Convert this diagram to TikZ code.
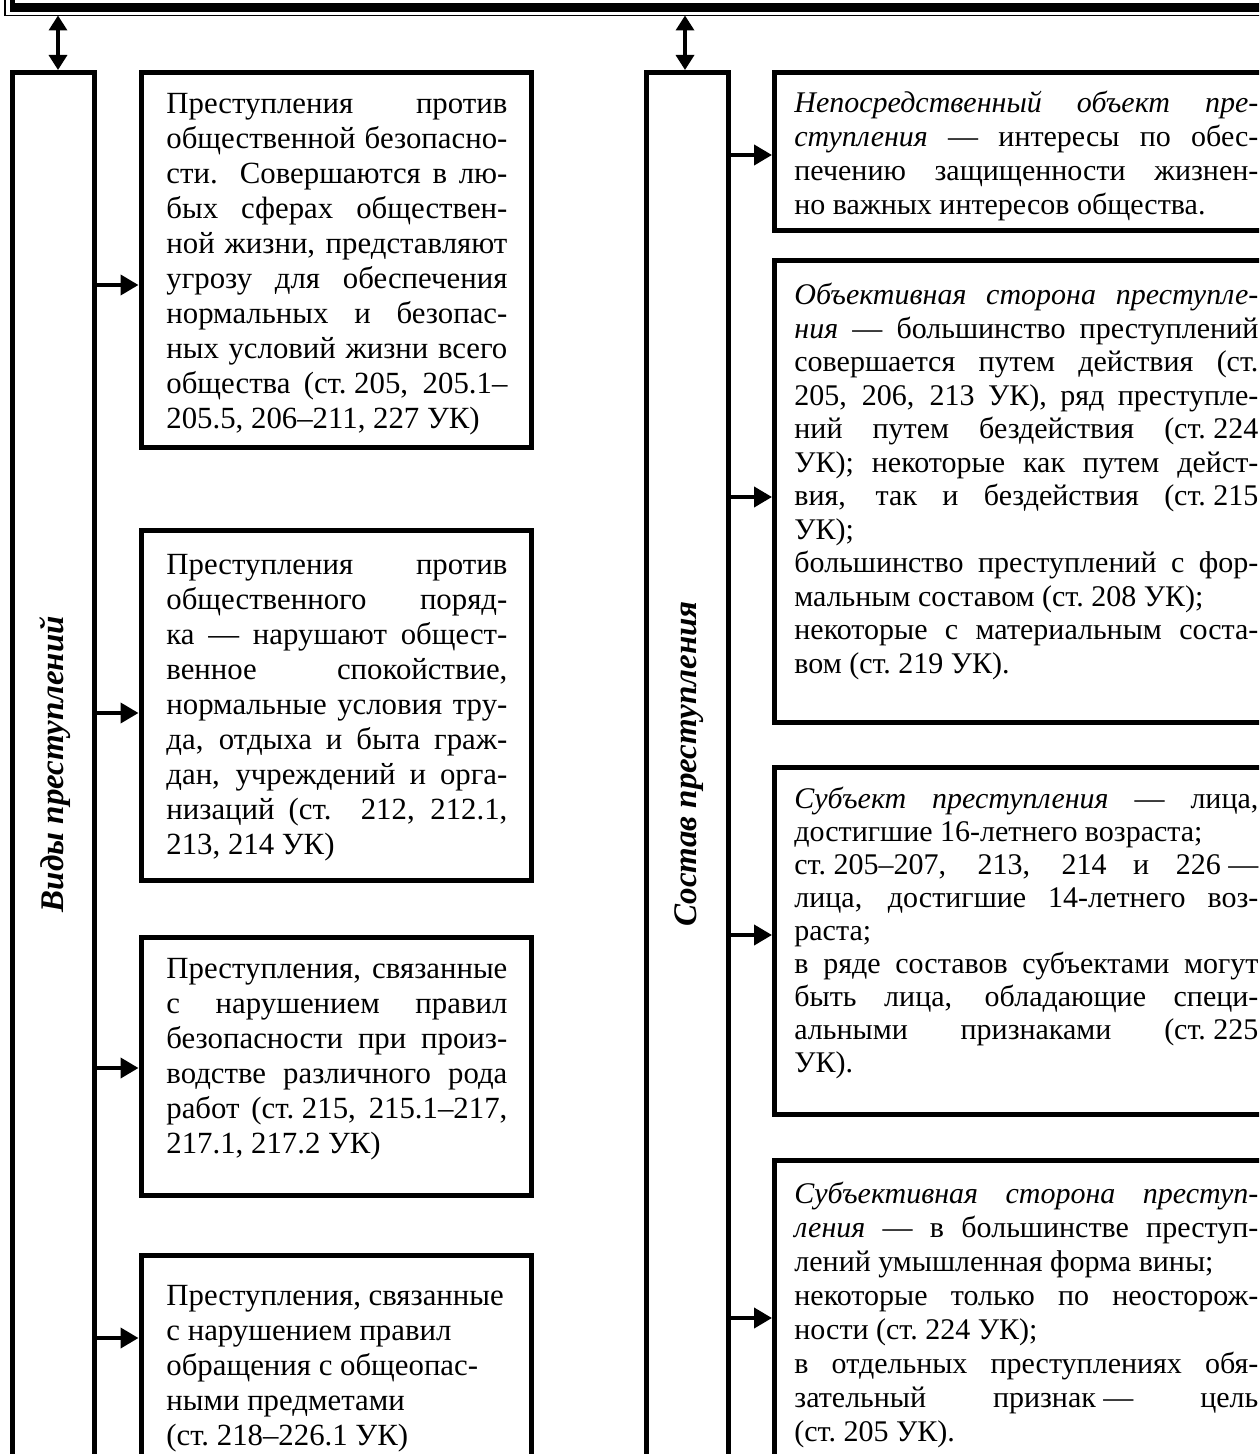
\documentclass[tikz,border=0pt]{standalone}
\usepackage{fontspec}
\setmainfont{Liberation Serif}
\usetikzlibrary{arrows.meta}
\newcommand\JLn[1]{\hbox to\hsize{#1}}
\newcommand\LLn[1]{\hbox to\hsize{#1\hfil}}
\newcommand\TB[2]{\vtop{\hsize=#1\relax #2}}
\newcommand\ns{\kern0.25em}
\begin{document}
\begin{tikzpicture}[x=0.5pt,y=-0.5pt,
  frame/.style={draw, line width=2.5pt, inner sep=0pt},
  lbox/.style={frame, minimum width=195pt},
  rbox/.style={frame, minimum width=262.5pt},
  vbox/.style={frame, minimum width=41pt, minimum height=714pt},
  ltxt/.style={inner sep=0pt, anchor=base west, font=\fontsize{15.4}{17.5}\selectfont},
  rtxt/.style={inner sep=0pt, anchor=base west, font=\fontsize{15}{16.75}\selectfont},
  vlab/.style={rotate=90, inner sep=0pt, font=\fontsize{16.5}{19}\selectfont\bfseries\itshape},
  harr/.style={line width=2pt, -{Triangle[length=9pt,width=10pt]}},
  varr/.style={line width=1.7pt, {Triangle[length=7.5pt,width=9pt]}-{Triangle[length=7.5pt,width=9pt]}}]
\useasboundingbox (0,0) rectangle (1259,1454);
\clip (0,0) rectangle (1259,1454);

% top frame (cut off)
\node[draw, line width=0.75pt, inner sep=0pt, outer sep=0pt, anchor=south west,
      minimum width=650pt, minimum height=30pt] (top) at (5,15.5) {};
\fill (10,-60) rectangle (1300,12.5);
\fill[white] (15,-60) rectangle (1300,3.5);

% vertical boxes
\node[vbox] (vb1) at (53.5,786.5) {};
\node[vbox] (vb2) at (687.5,786.5) {};
\node[vlab] (l1) at (55.5,764) {Виды преступлений};
\node[vlab] (l2) at (689,764) {Состав преступления};

% left boxes
\node[lbox, minimum height=187pt] (b1) at (336,260) {};
\node[lbox, minimum height=175pt] (b2) at (336,705) {};
\node[lbox, minimum height=129pt] (b3) at (336,1066) {};
\node[lbox, minimum height=122.5pt] (b4) at (336,1377.5) {};

% right boxes
\node[rbox, minimum height=79pt] (r1) at (1037,152) {};
\node[rbox, minimum height=230.5pt] (r2) at (1037,491.5) {};
\node[rbox, minimum height=173.5pt] (r3) at (1037,940.5) {};
\node[rbox, minimum height=170pt] (r4) at (1037,1330) {};

% texts left
\node[ltxt] (t1) at (166,114) {\TB{170.5pt}{%
\JLn{Преступления против}
\JLn{общественной безопасно-}
\JLn{сти. Совершаются в лю-}
\JLn{бых сферах обществен-}
\JLn{ной жизни, представляют}
\JLn{угрозу для обеспечения}
\JLn{нормальных и безопас-}
\JLn{ных условий жизни всего}
\JLn{общества (ст.\ns205, 205.1–}
\LLn{205.5, 206–211, 227 УК)}}};

\node[ltxt] (t2) at (166,574) {\TB{170.5pt}{%
\JLn{Преступления против}
\JLn{общественного поряд-}
\JLn{ка — нарушают общест-}
\JLn{венное спокойствие,}
\JLn{нормальные условия тру-}
\JLn{да, отдыха и быта граж-}
\JLn{дан, учреждений и орга-}
\JLn{низаций (ст. 212, 212.1,}
\LLn{213, 214 УК)}}};

\node[ltxt] (t3) at (166,978) {\TB{170.5pt}{%
\JLn{Преступления, связанные}
\JLn{с нарушением правил}
\JLn{безопасности при произ-}
\JLn{водстве различного рода}
\JLn{работ (ст.\ns215, 215.1–217,}
\LLn{217.1, 217.2 УК)}}};

\node[ltxt] (t4) at (166,1305) {\TB{170.5pt}{%
\LLn{Преступления, связанные}
\LLn{с нарушением правил}
\LLn{обращения с общеопас-}
\LLn{ными предметами}
\LLn{(ст.\ns218–226.1 УК)}}};

% texts right
\node[rtxt, font=\fontsize{15}{17}\selectfont] (s1) at (794,113) {\TB{232pt}{%
\JLn{\textit{Непосредственный объект пре-}}
\JLn{\textit{ступления} — интересы по обес-}
\JLn{печению защищенности жизнен-}
\LLn{но важных интересов общества.}}};

\node[rtxt] (s2) at (794,305) {\TB{232pt}{%
\JLn{\textit{Объективная сторона преступле-}}
\JLn{\textit{ния} — большинство преступлений}
\JLn{совершается путем действия (ст.}
\JLn{205, 206, 213 УК), ряд преступле-}
\JLn{ний путем бездействия (ст.\ns224}
\JLn{УК); некоторые как путем дейст-}
\JLn{вия, так и бездействия (ст.\ns215}
\LLn{УК);}
\JLn{большинство преступлений с фор-}
\LLn{мальным составом (ст.\ns208 УК);}
\JLn{некоторые с материальным соста-}
\LLn{вом (ст.\ns219 УК).}}};

\node[rtxt, font=\fontsize{15}{16.5}\selectfont] (s3) at (794,808) {\TB{232pt}{%
\JLn{\textit{Субъект преступления} — лица,}
\LLn{достигшие 16-летнего возраста;}
\JLn{ст.\ns205–207, 213, 214 и 226\ns—}
\JLn{лица, достигшие 14-летнего воз-}
\LLn{раста;}
\JLn{в ряде составов субъектами могут}
\JLn{быть лица, обладающие специ-}
\JLn{альными признаками (ст.\ns225}
\LLn{УК).}}};

\node[rtxt, font=\fontsize{15}{17}\selectfont] (s4) at (794,1203) {\TB{232pt}{%
\JLn{\textit{Субъективная сторона преступ-}}
\JLn{\textit{ления} — в большинстве преступ-}
\LLn{лений умышленная форма вины;}
\JLn{некоторые только по неосторож-}
\LLn{ности (ст.\ns224 УК);}
\JLn{в отдельных преступлениях обя-}
\JLn{зательный признак\ns— цель}
\LLn{(ст.\ns205 УК).}}};

% connectors
\coordinate (ta) at (58,0);
\coordinate (tb) at (685,0);
\draw[varr] (top.south -| ta) -- (vb1.north -| ta);
\draw[varr] (top.south -| tb) -- (vb2.north -| tb);

\coordinate (ab1) at (0,285);
\coordinate (ab2) at (0,713);
\coordinate (ab3) at (0,1068);
\coordinate (ab4) at (0,1338);
\draw[harr] (vb1.east |- ab1) -- (b1.west |- ab1);
\draw[harr] (vb1.east |- ab2) -- (b2.west |- ab2);
\draw[harr] (vb1.east |- ab3) -- (b3.west |- ab3);
\draw[harr] (vb1.east |- ab4) -- (b4.west |- ab4);

\coordinate (ar1) at (0,155);
\coordinate (ar2) at (0,497);
\coordinate (ar3) at (0,935);
\coordinate (ar4) at (0,1318);
\draw[harr] (vb2.east |- ar1) -- (r1.west |- ar1);
\draw[harr] (vb2.east |- ar2) -- (r2.west |- ar2);
\draw[harr] (vb2.east |- ar3) -- (r3.west |- ar3);
\draw[harr] (vb2.east |- ar4) -- (r4.west |- ar4);
\end{tikzpicture}
\end{document}
